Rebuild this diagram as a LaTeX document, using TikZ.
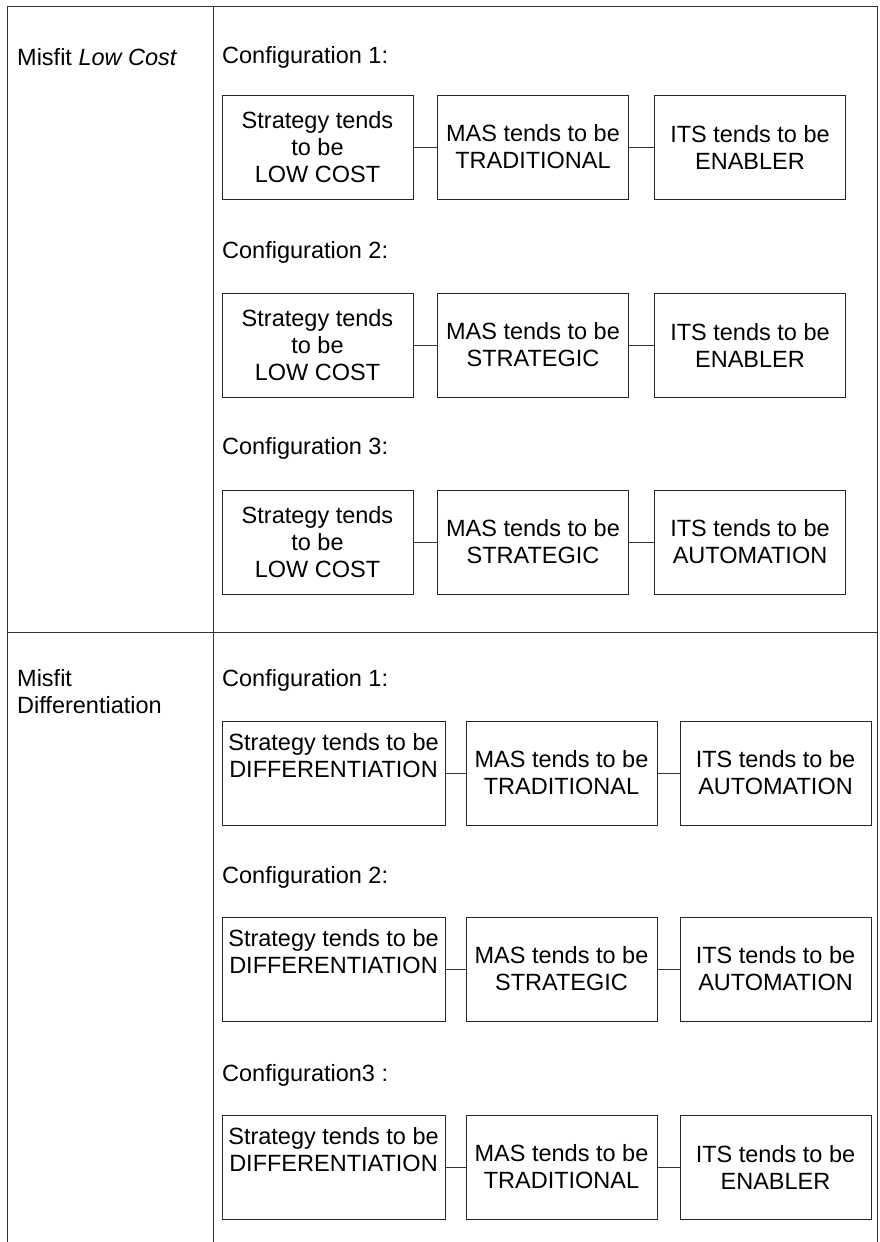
\documentclass[tikz,border=0pt]{standalone}
\usepackage{fontspec}
\setmainfont{Liberation Sans}
\begin{document}
\begin{tikzpicture}[x=1pt,y=-1pt,
  every node/.style={font=\fontsize{23.5}{27}\selectfont},
  cfg/.style={rectangle,draw=black!85,line width=0.8pt,minimum width=191pt,minimum height=104pt,inner sep=0pt,align=center},
  wide/.style={cfg,minimum width=223pt},
  lbl/.style={anchor=west,inner sep=0pt},
  link/.style={draw=black!80,line width=0.8pt},
  grid/.style={draw=black!80,line width=1pt}]
\useasboundingbox (0,0) rectangle (879,1242);
% table
\draw[grid] (7,1242) -- (7,6) -- (877,6) -- (877,1242);
\draw[grid] (213,6) -- (213,1242);
\draw[grid] (7,632) -- (877,632);
% left column
\node[lbl] (h1) at (17,57) {Misfit \textit{Low Cost}};
\node[lbl,align=left,anchor=north west] (h2) at (17,669) {Misfit\\Differentiation};
% top section
\node[lbl] (c1) at (222,57) {Configuration 1:};
\node[cfg] (a1) at (317.5,147) {Strategy tends\\to be\\LOW COST};
\node[cfg] (a2) at (533,147) {MAS tends to be\\TRADITIONAL};
\node[cfg] (a3) at (750,147) {ITS tends to be\\ENABLER};
\draw[link] (a1) -- (a2);
\draw[link] (a2) -- (a3);
\node[lbl] (c2) at (222,252) {Configuration 2:};
\node[cfg] (b1) at (317.5,345) {Strategy tends\\to be\\LOW COST};
\node[cfg] (b2) at (533,345) {MAS tends to be\\STRATEGIC};
\node[cfg] (b3) at (750,345) {ITS tends to be\\ENABLER};
\draw[link] (b1) -- (b2);
\draw[link] (b2) -- (b3);
\node[lbl] (c3) at (222,448) {Configuration 3:};
\node[cfg] (d1) at (317.5,542) {Strategy tends\\to be\\LOW COST};
\node[cfg] (d2) at (533,542) {MAS tends to be\\STRATEGIC};
\node[cfg] (d3) at (750,542) {ITS tends to be\\AUTOMATION};
\draw[link] (d1) -- (d2);
\draw[link] (d2) -- (d3);
% bottom section
\node[lbl] (c4) at (222,680) {Configuration 1:};
\node[wide] (e1) at (333.5,773) {Strategy tends to be\\DIFFERENTIATION\\\strut};
\node[cfg] (e2) at (561.5,773) {MAS tends to be\\TRADITIONAL};
\node[cfg] (e3) at (775.5,773) {ITS tends to be\\AUTOMATION};
\draw[link] (e1) -- (e2);
\draw[link] (e2) -- (e3);
\node[lbl] (c5) at (222,877) {Configuration 2:};
\node[wide] (f1) at (333.5,969) {Strategy tends to be\\DIFFERENTIATION\\\strut};
\node[cfg] (f2) at (561.5,969) {MAS tends to be\\STRATEGIC};
\node[cfg] (f3) at (775.5,969) {ITS tends to be\\AUTOMATION};
\draw[link] (f1) -- (f2);
\draw[link] (f2) -- (f3);
\node[lbl] (c6) at (222,1075) {Configuration3 :};
\node[wide] (g1) at (333.5,1167) {Strategy tends to be\\DIFFERENTIATION\\\strut};
\node[cfg] (g2) at (561.5,1167) {MAS tends to be\\TRADITIONAL};
\node[cfg] (g3) at (775.5,1167) {ITS tends to be\\ENABLER};
\draw[link] (g1) -- (g2);
\draw[link] (g2) -- (g3);
\end{tikzpicture}
\end{document}
